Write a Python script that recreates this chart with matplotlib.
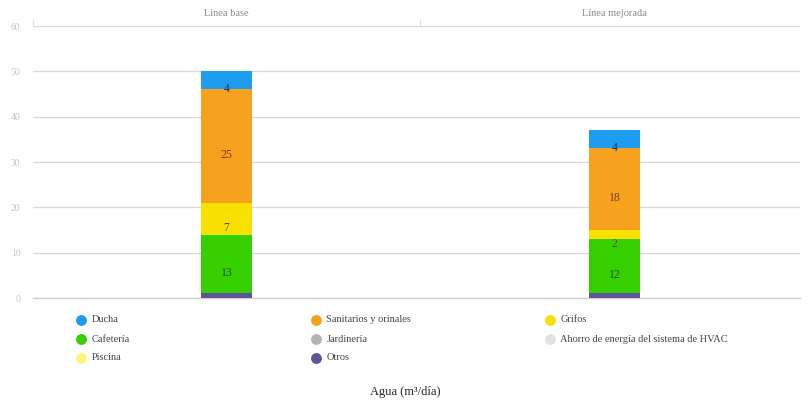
import matplotlib
matplotlib.use("Agg")
import matplotlib.pyplot as plt
from matplotlib.lines import Line2D
import numpy as np

plt.rcParams["font.family"] = ["Liberation Serif", "DejaVu Serif"]

categories = ["Línea base", "Línea mejorada"]
otros = [1, 1]
cafeteria = [13, 12]
grifos = [7, 2]
sanitarios = [25, 18]
ducha = [4, 4]
jardineria = [0, 0]
ahorro_hvac = [0, 0]
piscina = [0, 0]
y_ticks = [0, 10, 20, 30, 40, 50, 60]

colors = {
    "Ducha": "#1e9cf0",
    "Sanitarios y orinales": "#f7a21e",
    "Grifos": "#f8e100",
    "Cafetería": "#36d000",
    "Jardinería": "#b3b3b3",
    "Ahorro de energía del sistema de HVAC": "#e2e2e2",
    "Piscina": "#fff47c",
    "Otros": "#5e5596",
}
label_colors = {
    "Ducha": "#1f3550",
    "Sanitarios y orinales": "#7a3a10",
    "Grifos": "#5a5200",
    "Cafetería": "#1f5a10",
}

stack = [("Otros", otros), ("Cafetería", cafeteria), ("Grifos", grifos),
         ("Sanitarios y orinales", sanitarios), ("Ducha", ducha),
         ("Jardinería", jardineria), ("Ahorro de energía del sistema de HVAC", ahorro_hvac),
         ("Piscina", piscina)]

fig = plt.figure(figsize=(8.08, 4.04), dpi=100)
ax = fig.add_axes([33 / 808, 1 - 298 / 404, 767 / 808, 272 / 404])

x = np.arange(len(categories))
bottom = np.zeros(len(categories))
for name, vals in stack:
    vals = np.array(vals, dtype=float)
    ax.bar(x, vals, width=0.131, bottom=bottom, color=colors[name], zorder=3, linewidth=0)
    for xi, v, b in zip(x, vals, bottom):
        if v > 1:
            ax.annotate(f"{v:g}", (xi, b + v / 2), xytext=(0, -6.5), textcoords="offset points",
                        ha="center", va="center", fontsize=8.5,
                        color=label_colors.get(name, "#333333"), zorder=4)
    bottom += vals

ax.set_xlim(-0.499, 1.478)
ax.set_ylim(0, 60)
ax.set_yticks(y_ticks)
ax.set_yticklabels([str(t) for t in y_ticks], fontsize=7, color="#c4c4c4")
ax.tick_params(axis="y", length=0, pad=9)
ax.grid(axis="y", color="#d9d9d9", linewidth=0.9, zorder=0)
ax.axhline(0, color="#d0d0d0", linewidth=1.0, zorder=2, clip_on=False)
for s in ax.spines.values():
    s.set_visible(False)

ax.xaxis.tick_top()
ax.set_xticks(x)
ax.set_xticklabels(categories, fontsize=7.5, color="#8a8a8a")
ax.tick_params(axis="x", length=0, pad=6)

# panel separators above the top gridline
for xs in (-0.499, 0.499):
    ax.plot([xs, xs], [60, 61.3], color="#dddddd", linewidth=0.8, clip_on=False)

# legend, laid out row by row in three columns
legend_rows = [["Ducha", "Sanitarios y orinales", "Grifos"],
               ["Cafetería", "Jardinería", "Ahorro de energía del sistema de HVAC"],
               ["Piscina", "Otros"]]
col_x = [81 / 808, 316 / 808, 550 / 808]
row_y = [1 - 320 / 404, 1 - 339 / 404, 1 - 358 / 404]
for r, row in enumerate(legend_rows):
    for c, name in enumerate(row):
        fig.add_artist(Line2D([col_x[c]], [row_y[r]], marker="o", markersize=6.8,
                              color=colors[name], linestyle="none",
                              transform=fig.transFigure))
        fig.text(col_x[c] + 10.5 / 808, row_y[r], name, fontsize=7.5, color="#444444",
                 va="center", ha="left")

fig.text(405 / 808, 1 - 392 / 404, "Agua (m³/día)", fontsize=9, color="#222222",
         ha="center", va="center")

fig.savefig("out.png", dpi=100)
